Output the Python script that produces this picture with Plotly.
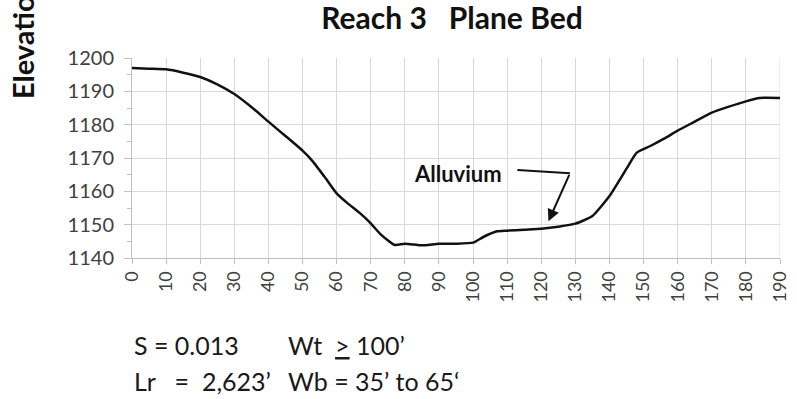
import plotly.graph_objects as go

# Cross-section survey: station (ft) vs. ground elevation (ft)
station = [0, 5, 10, 15, 20, 25, 30, 35, 40, 45, 50, 53, 57, 60, 63, 67, 70, 73,
           77, 80, 85, 90, 95, 100, 103, 107, 110, 115, 120, 125, 130, 135, 140,
           145, 148, 152, 156, 160, 165, 170, 175, 180, 184, 190]
elevation = [1197.0, 1196.8, 1196.6, 1195.6, 1194.3, 1192.1, 1189.2, 1185.3, 1180.9,
             1176.6, 1172.2, 1169.0, 1163.6, 1159.4, 1156.6, 1153.3, 1150.4, 1147.0,
             1143.9, 1144.3, 1143.8, 1144.3, 1144.3, 1144.6, 1146.3, 1148.0, 1148.2,
             1148.5, 1148.8, 1149.4, 1150.3, 1152.6, 1158.6, 1166.8, 1171.6, 1173.6,
             1175.8, 1178.2, 1180.9, 1183.6, 1185.4, 1187.0, 1188.0, 1188.0]

x_ticks = list(range(0, 191, 10))
y_ticks = list(range(1140, 1201, 10))

chart_title = "Reach 3   Plane Bed"
y_title = "Elevation (ft)"
note_label = "Alluvium"
stats_left = ["S = 0.013", "Lr   =  2,623’"]
stats_right = ["Wt  <u>></u> 100’", "Wb = 35’ to 65‘"]

FONT = "Lato"
GRID = "#d9d9d9"
AXIS = "#bfbfbf"
TICKC = "#404040"
INK = "#111111"

fig = go.Figure()
fig.add_trace(go.Scatter(
    x=station, y=elevation, mode="lines",
    line=dict(color=INK, width=2.5, shape="spline", smoothing=0.5),
    hoverinfo="skip", showlegend=False,
))

fig.update_layout(
    width=797, height=399,
    margin=dict(l=132, r=7, t=58, b=141),
    paper_bgcolor="white", plot_bgcolor="white",
    font=dict(family=FONT, color=TICKC),
    title=dict(text="<b>" + chart_title + "</b>", x=452 / 797,
               xanchor="center", xref="container", y=0.953, yanchor="middle",
               font=dict(family=FONT, size=30, color=INK)),
    xaxis=dict(
        range=[0, 190], tickmode="array", tickvals=x_ticks,
        ticktext=[str(v) for v in x_ticks], tickangle=-90,
        ticklabeloverflow="allow",
        showgrid=True, gridcolor=GRID, gridwidth=1,
        showline=True, linecolor=AXIS, linewidth=1,
        ticks="outside", ticklen=5, tickcolor=AXIS,
        tickfont=dict(family=FONT, size=18, color=TICKC),
        zeroline=False, mirror=False,
    ),
    yaxis=dict(
        range=[1140, 1200], tickmode="array", tickvals=y_ticks,
        showgrid=True, gridcolor=GRID, gridwidth=1,
        showline=True, linecolor=AXIS, linewidth=1,
        ticks="outside", ticklen=7, tickcolor=AXIS,
        ticklabelstandoff=6,
        minor=dict(dtick=5, ticks="outside", ticklen=4, tickcolor=AXIS,
                   showgrid=False),
        tickfont=dict(family=FONT, size=20, color=TICKC),
        zeroline=False,
    ),
)

# Right-hand border at the last station
fig.add_shape(type="line", xref="x", yref="paper", x0=190, x1=190, y0=0, y1=1,
              line=dict(color=GRID, width=1), layer="below")

# Rotated y-axis title, running off the top edge
fig.add_annotation(
    text="<b>" + y_title + "</b>", textangle=-90,
    xref="paper", yref="paper", x=(21 - 132) / 658, y=(258.3 - 101) / 200.3,
    xanchor="center", yanchor="bottom", showarrow=False,
    font=dict(family=FONT, size=29, color=INK),
)

# Alluvium callout: label, leader line and arrow
fig.add_annotation(text="<b>" + note_label + "</b>", x=95.7, y=1165.5,
                   xref="x", yref="y", showarrow=False,
                   font=dict(family=FONT, size=22, color=INK))
fig.add_shape(type="line", x0=113.0, y0=1166.4, x1=128.4, y1=1165.4,
              xref="x", yref="y", line=dict(color=INK, width=2))
fig.add_annotation(x=122.1, y=1151.0, ax=128.4, ay=1165.4,
                   xref="x", yref="y", axref="x", ayref="y", text="",
                   showarrow=True, arrowhead=2, arrowsize=1.2, arrowwidth=2,
                   arrowcolor=INK)

# Reach statistics below the chart
for i, (left, right) in enumerate(zip(stats_left, stats_right)):
    yp = -0.433 - 0.18 * i
    fig.add_annotation(text=left, xref="paper", yref="paper", x=0.0, y=yp,
                       xanchor="left", yanchor="middle", showarrow=False,
                       font=dict(family=FONT, size=25, color="#1a1a1a"))
    fig.add_annotation(text=right, xref="paper", yref="paper",
                       x=(288.5 - 132) / 658, y=yp,
                       xanchor="left", yanchor="middle", showarrow=False,
                       font=dict(family=FONT, size=25, color="#1a1a1a"))

fig.write_html("out.html")
